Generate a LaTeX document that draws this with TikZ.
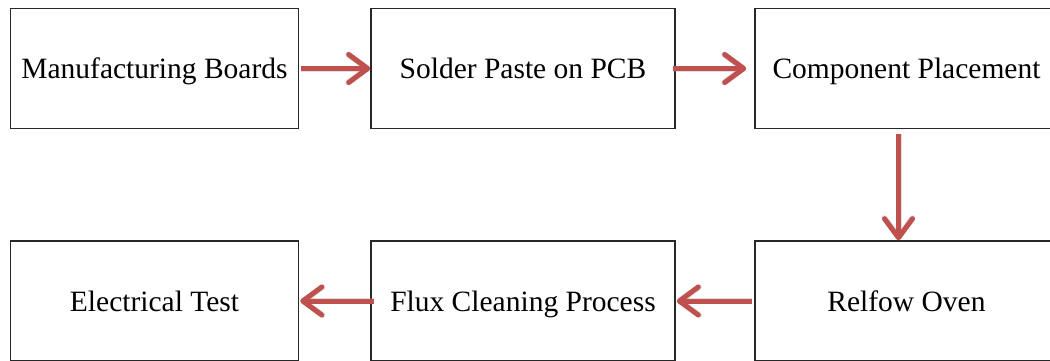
\documentclass[tikz,border=0pt]{standalone}
\usepackage{fontspec}
\setmainfont{Liberation Serif}
\usetikzlibrary{arrows.meta}
\definecolor{arrred}{RGB}{192,80,77}
\definecolor{boxline}{RGB}{40,40,40}
\begin{document}
\begin{tikzpicture}[x=1pt,y=-1pt,
  procbox/.style={draw=boxline,line width=1.6pt,rectangle,minimum height=120pt,inner sep=0pt,
    text depth=0pt,font=\fontsize{29.5}{32}\selectfont,text=black},
  arr/.style={draw=arrred,line width=5pt,-{Straight Barb[length=19pt,width=28pt,round]}},
  arrshadow/.style={draw=black!40,opacity=0.3,line width=6pt,-{Straight Barb[length=19pt,width=28pt,round]}}]
\useasboundingbox (0,0) rectangle (1050,360);
\clip (0,0) rectangle (1050,360);
\fill[white] (0,0) rectangle (1050,360);
\node[procbox,minimum width=288pt] (b1) at (154.5,68.5) {Manufacturing Boards};
\node[procbox,minimum width=304pt] (b2) at (523,68.5) {Solder Paste on PCB};
\node[procbox,minimum width=303pt] (b3) at (906.5,68.5) {Component Placement};
\node[procbox,minimum width=288pt] (b4) at (154.5,301) {Electrical Test};
\node[procbox,minimum width=304pt] (b5) at (523,301) {Flux Cleaning Process};
\node[procbox,minimum width=303pt] (b6) at (906.5,301) {Relfow Oven};
% shadows
\begin{scope}[xshift=1.5pt,yshift=-2.5pt]
\draw[arrshadow,shorten <=2pt,shorten >=0pt] (b1.east) -- (b2.west);
\draw[arrshadow,shorten <=-3pt,shorten >=8pt] (b2.east) -- (b3.west);
\draw[arrshadow,shorten <=5pt,shorten >=0pt] ([xshift=-8pt]b3.south) -- ([xshift=-8pt]b6.north);
\draw[arrshadow,shorten <=2pt,shorten >=1pt] (b6.west) -- (b5.east);
\draw[arrshadow,shorten <=-4pt,shorten >=1pt] (b5.west) -- (b4.east);
\end{scope}
% arrows
\draw[arr,shorten <=2pt,shorten >=0pt] (b1.east) -- (b2.west);
\draw[arr,shorten <=-3pt,shorten >=8pt] (b2.east) -- (b3.west);
\draw[arr,shorten <=5pt,shorten >=0pt] ([xshift=-8pt]b3.south) -- ([xshift=-8pt]b6.north);
\draw[arr,shorten <=2pt,shorten >=1pt] (b6.west) -- (b5.east);
\draw[arr,shorten <=-4pt,shorten >=1pt] (b5.west) -- (b4.east);
\end{tikzpicture}
\end{document}
